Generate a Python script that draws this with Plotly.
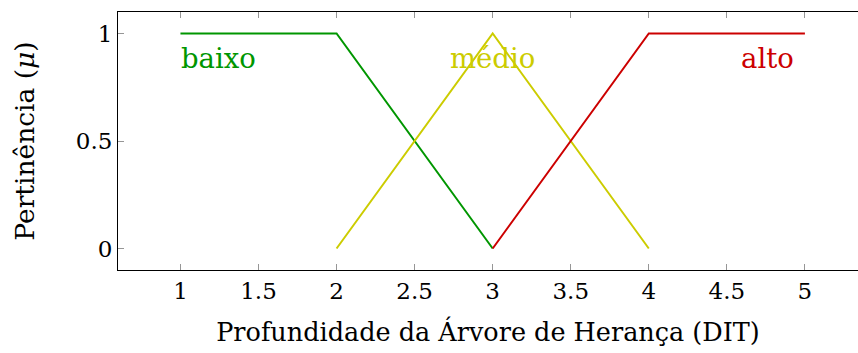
import plotly.graph_objects as go

# data
baixo_x = [1, 2, 3]
baixo_y = [1, 1, 0]
medio_x = [2, 3, 4]
medio_y = [0, 1, 0]
alto_x = [3, 4, 5]
alto_y = [0, 1, 1]
x_ticks = [1, 1.5, 2, 2.5, 3, 3.5, 4, 4.5, 5]
x_ticklabels = ["1", "1.5", "2", "2.5", "3", "3.5", "4", "4.5", "5"]
y_ticks = [0, 0.5, 1]
y_ticklabels = ["0", "0.5", "1"]
labels = ["baixo", "médio", "alto"]
label_x = [1.245, 3.0, 4.76]
label_y = [0.885, 0.885, 0.885]

GREEN = "rgb(0,150,0)"
YELLOW = "rgb(204,204,0)"
RED = "rgb(204,0,0)"
colors = [GREEN, YELLOW, RED]
FONT = "DejaVu Serif"

fig = go.Figure()
for xs, ys, c in [(baixo_x, baixo_y, GREEN), (medio_x, medio_y, YELLOW), (alto_x, alto_y, RED)]:
    fig.add_trace(go.Scatter(x=xs, y=ys, mode="lines", line=dict(color=c, width=2), showlegend=False, hoverinfo="skip"))

for t, lx, ly, c in zip(labels, label_x, label_y, colors):
    fig.add_annotation(x=lx, y=ly, text=t, showarrow=False, font=dict(family=FONT, size=27.5, color=c),
                       xanchor="center", yanchor="middle")

fig.update_layout(
    width=858, height=353,
    margin=dict(l=118, r=0, t=12, b=83),
    plot_bgcolor="white", paper_bgcolor="white",
    font=dict(family=FONT, size=23, color="black"),
    xaxis=dict(range=[0.6, 5.34], tickvals=x_ticks, ticktext=x_ticklabels, ticks="inside", ticklen=6,
               tickcolor="rgb(150,150,150)", tickwidth=1, showline=True, linecolor="black", linewidth=1,
               mirror="ticks", showgrid=False, zeroline=False,
               title=dict(text="Profundidade da Árvore de Herança (DIT)", font=dict(size=25.5), standoff=20)),
    yaxis=dict(range=[-0.1, 1.1], tickvals=y_ticks, ticktext=y_ticklabels, ticks="inside", ticklen=6,
               tickcolor="rgb(150,150,150)", tickwidth=1, showline=True, linecolor="black", linewidth=1,
               showgrid=False, zeroline=False,
               title=dict(text="Pertinência (<i>μ</i>)", font=dict(size=26.5), standoff=33)),
)
fig.write_html("out.html")
